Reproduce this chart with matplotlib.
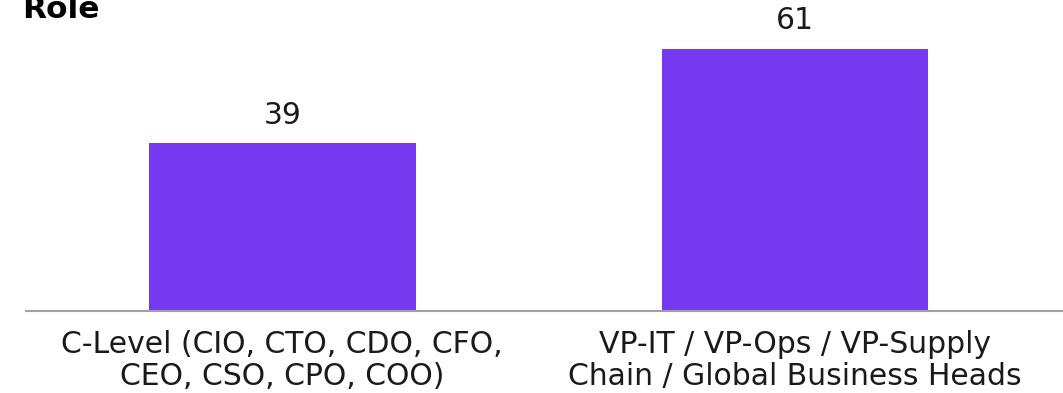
import matplotlib
matplotlib.use("Agg")
from matplotlib import pyplot as plt

categories = ["C-Level (CIO, CTO, CDO, CFO,\nCEO, CSO, CPO, COO)",
              "VP-IT / VP-Ops / VP-Supply\nChain / Global Business Heads"]
values = [39, 61]

bar_color = "#7739F0"

fig = plt.figure(figsize=(10.63, 3.93), dpi=100)
ax = fig.add_axes([26 / 1063, (393 - 311) / 393, 1 - 26 / 1063, 311 / 393])

x = list(range(len(values)))
bars = ax.bar(x, values, width=0.52, color=bar_color)
ax.set_xlim(-0.5, 1.523)
ax.set_ylim(0, 311 / 4.3)

# value labels above bars
for b, v in zip(bars, values):
	ax.text(b.get_x() + b.get_width() / 2, v + 3.1, str(v), ha="center", va="bottom",
	        fontsize=21.5, color="#1a1a1a")

ax.set_xticks(x)
ax.set_xticklabels(categories, fontsize=21.5, color="#1a1a1a", linespacing=1.12)
ax.tick_params(axis="x", length=0, pad=14)
ax.set_yticks([])
for s in ["top", "right", "left"]:
	ax.spines[s].set_visible(False)
ax.spines["bottom"].set_color("#a0a0a0")
ax.spines["bottom"].set_linewidth(1.5)

fig.text(22 / 1063, 1 - 18 / 393, "Role", fontsize=22.5, fontweight="bold", va="baseline", ha="left")

plt.savefig("out.png", dpi=100)
